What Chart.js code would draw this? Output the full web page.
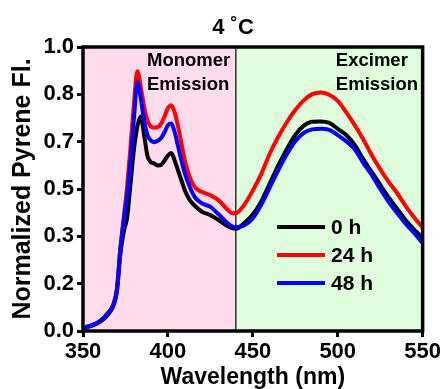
<!DOCTYPE html>
<html><head><meta charset="utf-8">
<script src="https://cdn.jsdelivr.net/npm/chart.js@4"></script>
<style>html,body{margin:0;padding:0;background:#fff;overflow:hidden}</style>
</head><body>
<canvas id="c" width="443" height="389" style="display:block;width:443px;height:389px"></canvas>
<script>
const wavelengths = [350,355,360,365,368,370,372,374,376,378,380,382,384,386,388,390,392,394,396,398,400,402,404,406,408,410,413,416,420,425,430,435,438,440,445,450,455,460,465,470,475,480,485,490,495,500,505,510,515,520,525,530,535,540,545,550];
const series0h  = [0.010,0.018,0.032,0.060,0.090,0.140,0.270,0.350,0.400,0.520,0.640,0.720,0.755,0.690,0.615,0.595,0.590,0.583,0.585,0.600,0.618,0.627,0.600,0.565,0.530,0.495,0.460,0.440,0.420,0.408,0.390,0.370,0.362,0.360,0.380,0.410,0.456,0.520,0.583,0.640,0.690,0.723,0.737,0.738,0.733,0.712,0.690,0.655,0.605,0.560,0.515,0.470,0.430,0.390,0.357,0.328];
const series24h = [0.012,0.020,0.035,0.065,0.095,0.150,0.290,0.400,0.510,0.650,0.800,0.915,0.860,0.790,0.740,0.720,0.716,0.718,0.730,0.755,0.785,0.795,0.770,0.720,0.660,0.600,0.540,0.505,0.490,0.478,0.460,0.428,0.415,0.415,0.445,0.495,0.553,0.625,0.684,0.735,0.778,0.812,0.834,0.840,0.832,0.810,0.770,0.725,0.675,0.620,0.570,0.525,0.485,0.440,0.400,0.365];
const series48h = [0.012,0.020,0.035,0.065,0.095,0.150,0.290,0.390,0.480,0.600,0.750,0.875,0.820,0.740,0.690,0.670,0.665,0.670,0.680,0.700,0.725,0.731,0.700,0.650,0.600,0.555,0.505,0.470,0.450,0.437,0.410,0.380,0.368,0.365,0.372,0.397,0.445,0.506,0.566,0.622,0.668,0.698,0.710,0.712,0.708,0.690,0.668,0.640,0.592,0.550,0.500,0.455,0.415,0.378,0.345,0.310];
const seriesLabels = ['0 h','24 h','48 h'];
const seriesColors = ['#000000','#ff0000','#0000ff'];
const xTickValues = [350,400,450,500,550];
const yTickValues = [0,0.16667,0.33333,0.5,0.66667,0.83333,1];
const yTickLabels = ['0.0','0.2','0.3','0.5','0.7','0.8','1.0'];
const regionBounds = [350,440,550];
const regionColors = ['#ffdcec','#dffcdc'];
const regionLabels = [['Monomer','Emission'],['Excimer','Emission']];
const chartTitle = '4 \u02DAC';
const xTitle = 'Wavelength (nm)';
const yTitle = 'Normalized Pyrene Fl.';

const FONT = "'Liberation Sans', Arial, sans-serif";
const allSeries = [series0h, series24h, series48h];

const datasets = allSeries.map((s, i) => ({
  label: seriesLabels[i],
  data: wavelengths.map((w, j) => ({x: w, y: s[j]})),
  borderColor: seriesColors[i],
  backgroundColor: seriesColors[i],
  borderWidth: 4,
  pointRadius: 0,
  cubicInterpolationMode: 'monotone',
  order: 2 - i,
  fill: false
}));

const decorPlugin = {
  id: 'decor',
  beforeDatasetsDraw(chart) {
    const {ctx, chartArea: a, scales: {x}} = chart;
    ctx.save();
    for (let i = 0; i < regionColors.length; i++) {
      const x0 = x.getPixelForValue(regionBounds[i]);
      const x1 = x.getPixelForValue(regionBounds[i + 1]);
      ctx.fillStyle = regionColors[i];
      ctx.fillRect(x0, a.top, x1 - x0, a.bottom - a.top);
    }
    ctx.strokeStyle = '#000';
    ctx.lineWidth = 1.2;
    const xm = x.getPixelForValue(regionBounds[1]);
    ctx.beginPath(); ctx.moveTo(xm, a.top); ctx.lineTo(xm, a.bottom); ctx.stroke();
    ctx.restore();
  },
  afterDraw(chart) {
    const {ctx, chartArea: a, scales: {x}} = chart;
    ctx.save();
    ctx.strokeStyle = '#000';
    ctx.lineWidth = 3.5;
    ctx.strokeRect(a.left, a.top, a.right - a.left, a.bottom - a.top);
    ctx.fillStyle = '#000';
    ctx.font = 'bold 18.5px ' + FONT;
    ctx.textAlign = 'left';
    ctx.textBaseline = 'middle';
    const anchors = [x.getPixelForValue(regionBounds[0]) + 64, x.getPixelForValue(regionBounds[1]) + 100];
    regionLabels.forEach((lines, i) => {
      lines.forEach((t, k) => ctx.fillText(t, anchors[i], a.top + 14 + k * 23.5));
    });
    ctx.font = 'bold 21px ' + FONT;
    seriesLabels.forEach((lab, i) => {
      const y = a.top + 180 + i * 28;
      ctx.strokeStyle = seriesColors[i];
      ctx.lineWidth = 4;
      ctx.beginPath(); ctx.moveTo(a.left + 194, y); ctx.lineTo(a.left + 242, y); ctx.stroke();
      ctx.fillStyle = '#000';
      ctx.fillText(lab, a.left + 248, y + 1);
    });
    ctx.font = 'bold 22px ' + FONT;
    ctx.textAlign = 'center';
    ctx.fillText(chartTitle, 233, 28);
    ctx.restore();
  }
};

new Chart(document.getElementById('c'), {
  type: 'line',
  data: {datasets},
  options: {
    responsive: false,
    animation: false,
    devicePixelRatio: 1,
    layout: {padding: {left: 0, right: 20, top: 47, bottom: 0}},
    plugins: {legend: {display: false}, tooltip: {enabled: false}, title: {display: false}},
    scales: {
      x: {
        type: 'linear', min: 350, max: 550,
        afterFit(s) { s.height = 58; },
        afterBuildTicks(s) { s.ticks = xTickValues.map(v => ({value: v})); },
        border: {display: false},
        grid: {display: true, drawOnChartArea: false, drawTicks: true, tickLength: 6, tickWidth: 3, tickColor: '#000', color: '#000'},
        ticks: {color: '#000', font: {family: FONT, size: 22, weight: 'bold'}, padding: 2, maxRotation: 0, autoSkip: false},
        title: {display: true, text: xTitle, color: '#000', font: {family: FONT, size: 23, weight: 'bold', lineHeight: 1}, padding: {top: 0, bottom: 0}}
      },
      y: {
        type: 'linear', min: 0, max: 1,
        afterFit(s) { s.width = 83; },
        afterBuildTicks(s) { s.ticks = yTickValues.map(v => ({value: v})); },
        border: {display: false},
        grid: {display: true, drawOnChartArea: false, drawTicks: true, tickLength: 6, tickWidth: 3, tickColor: '#000', color: '#000'},
        ticks: {color: '#000', font: {family: FONT, size: 22, weight: 'bold'}, padding: 3, autoSkip: false,
          callback: (v, i) => yTickLabels[i]},
        title: {display: true, text: yTitle, color: '#000', font: {family: FONT, size: 25, weight: 'bold', lineHeight: 1}, padding: {top: 11, bottom: 0}}
      }
    }
  },
  plugins: [decorPlugin]
});
</script>
</body></html>
